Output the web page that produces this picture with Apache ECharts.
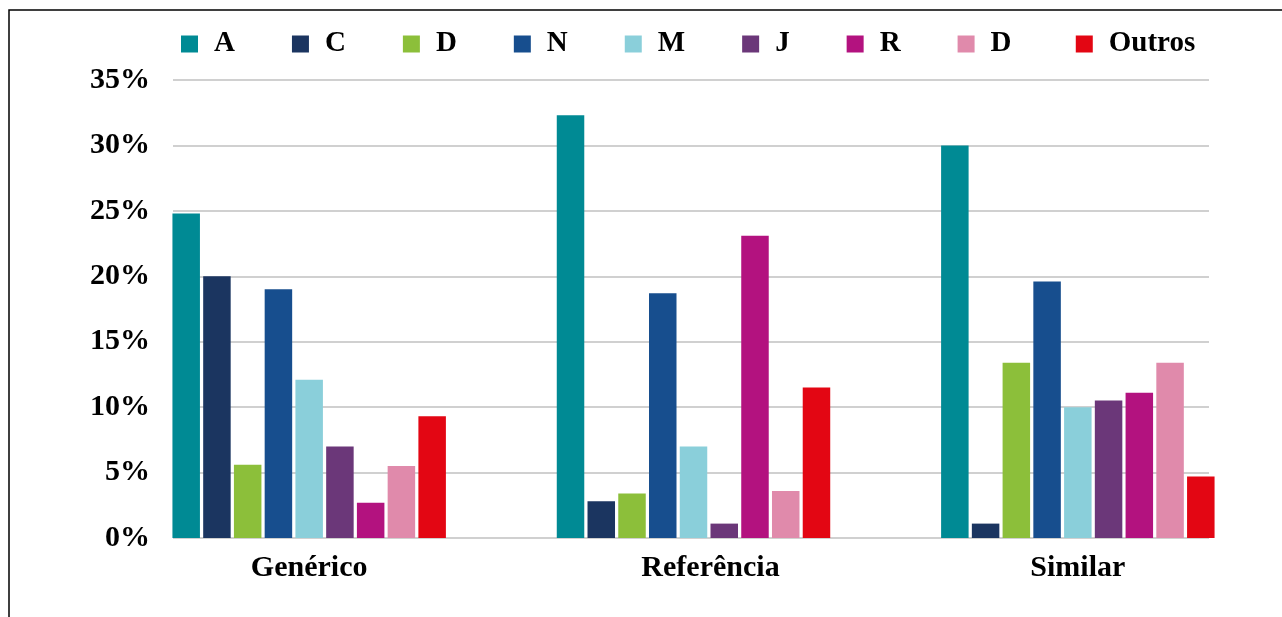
<!DOCTYPE html>
<html>
<head>
<meta charset="utf-8">
<script src="https://cdn.jsdelivr.net/npm/echarts@6/dist/echarts.min.js"></script>
<style>
  html, body { margin: 0; padding: 0; background: #fff; }
  #chart { width: 1282px; height: 617px; }
</style>
</head>
<body>
<div id="chart"></div>
<script>
// categories and series (values in %)
const categories = ['Genérico', 'Referência', 'Similar'];
const seriesNames = ['A', 'C', 'D', 'N', 'M', 'J', 'R', 'D ', 'Outros'];
const seriesColors = ['#008a94', '#1b3560', '#8cbf3a', '#174e8e', '#8acfda', '#6b3779', '#b3127f', '#e08aab', '#e30613'];
const valuesA = [24.8, 32.3, 30.0];
const valuesC = [20.0, 2.8, 1.1];
const valuesD = [5.6, 3.4, 13.4];
const valuesN = [19.0, 18.7, 19.6];
const valuesM = [12.1, 7.0, 10.0];
const valuesJ = [7.0, 1.1, 10.5];
const valuesR = [2.7, 23.1, 11.1];
const valuesD2 = [5.5, 3.6, 13.4];
const valuesOutros = [9.3, 11.5, 4.7];
const yTicks = [0, 5, 10, 15, 20, 25, 30, 35];

const seriesValues = [valuesA, valuesC, valuesD, valuesN, valuesM, valuesJ, valuesR, valuesD2, valuesOutros];

const fontFamily = '"Liberation Serif", "Times New Roman", serif';
const labelFont = { fontFamily: fontFamily, fontSize: 30, fontWeight: 'bold', color: '#000' };

const chart = echarts.init(document.getElementById('chart'));

const option = {
  backgroundColor: '#fff',
  animation: false,
  textStyle: { fontFamily: fontFamily },
  graphic: [{
    type: 'rect',
    shape: { x: 9, y: 10, width: 1400, height: 800 },
    style: { fill: 'none', stroke: '#000', lineWidth: 1.5 },
    silent: true
  }],
  legend: {
    left: 176,
    top: 24,
    itemWidth: 17,
    itemHeight: 17,
    itemGap: 57,
    icon: 'rect',
    data: seriesNames,
    textStyle: {
      fontFamily: fontFamily,
      fontSize: 29,
      fontWeight: 'bold',
      color: '#000',
      lineHeight: 30,
      padding: [0, 0, 0, 11]
    }
  },
  grid: [
    // grid for gridlines and y labels
    { left: 173, right: 73, top: 80, bottom: 79 },
    // grid for the bars
    { left: 117, right: 12, top: 80, bottom: 79 }
  ],
  xAxis: [
    {
      gridIndex: 0,
      type: 'category',
      data: categories,
      show: false
    },
    {
      gridIndex: 1,
      type: 'category',
      data: categories,
      axisLine: { show: false },
      axisTick: { show: false },
      axisLabel: Object.assign({
        margin: 15,
        // middle label sits a bit right of its bars in the original
        formatter: (v, i) => (i === 1 ? '{m|' + v + '}' : v),
        rich: { m: Object.assign({ padding: [0, 0, 0, 34] }, labelFont) }
      }, labelFont)
    }
  ],
  yAxis: [
    {
      gridIndex: 0,
      type: 'value',
      min: yTicks[0],
      max: yTicks[yTicks.length - 1],
      interval: 5,
      axisLine: { show: false },
      axisTick: { show: false },
      splitLine: { lineStyle: { color: '#d0d0d0', width: 2 } },
      axisLabel: Object.assign({ margin: 23, formatter: '{value}%' }, labelFont)
    },
    {
      gridIndex: 1,
      type: 'value',
      min: yTicks[0],
      max: yTicks[yTicks.length - 1],
      interval: 5,
      show: false,
      splitLine: { show: false }
    }
  ],
  series: seriesNames.map((name, i) => ({
    name: name,
    type: 'bar',
    xAxisIndex: 1,
    yAxisIndex: 1,
    data: seriesValues[i],
    barWidth: 27.5,
    barGap: '11.8%',
    itemStyle: { color: seriesColors[i] }
  }))
};

chart.setOption(option);
</script>
</body>
</html>
